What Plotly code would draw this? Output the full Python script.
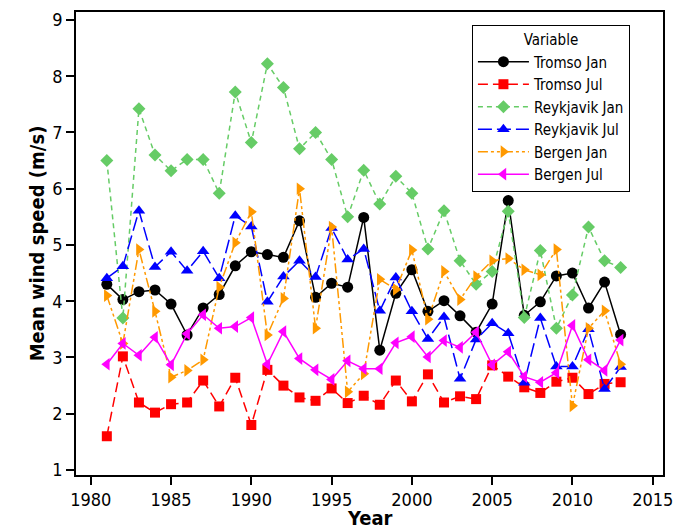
import plotly.graph_objects as go

years = list(range(1981, 2014))

tromso_jan = [4.3, 4.03, 4.17, 4.2, 3.95, 3.4, 3.88, 4.12, 4.63, 4.88,
              4.83, 4.78, 5.43, 4.07, 4.32, 4.25, 5.49, 3.13, 4.14, 4.56,
              3.82, 4.01, 3.74, 3.45, 3.95, 5.79, 3.75, 3.99, 4.45, 4.5,
              3.88, 4.34, 3.41]
tromso_jul = [1.6, 3.02, 2.2, 2.02, 2.17, 2.2, 2.59, 2.13, 2.64, 1.8,
              2.78, 2.5, 2.29, 2.23, 2.45, 2.19, 2.32, 2.16, 2.59, 2.22,
              2.7, 2.2, 2.31, 2.26, 2.86, 2.66, 2.47, 2.37, 2.57, 2.64,
              2.35, 2.53, 2.56]
reyk_jan = [6.5, 3.7, 7.42, 6.6, 6.32, 6.52, 6.52, 5.92, 7.72, 6.82,
            8.22, 7.8, 6.71, 7.0, 6.52, 5.5, 6.33, 5.73, 6.22, 5.92,
            4.93, 5.61, 4.72, 4.3, 4.53, 5.6, 3.71, 4.9, 3.52, 4.11,
            5.32, 4.72, 4.6]
reyk_jul = [4.41, 4.62, 5.61, 4.61, 4.88, 4.54, 4.89, 4.41, 5.52, 5.33,
            3.99, 4.44, 4.72, 4.43, 5.3, 4.74, 4.93, 3.83, 4.42, 3.82,
            3.33, 3.72, 2.62, 3.32, 3.61, 3.43, 2.55, 3.7, 2.84, 2.84,
            3.5, 2.44, 2.83]
bergen_jan = [4.1, 3.25, 4.92, 3.82, 2.65, 2.77, 2.96, 4.25, 5.04, 5.59,
              3.4, 4.05, 6.0, 3.52, 5.32, 2.39, 2.71, 4.39, 4.21, 4.91,
              3.68, 4.53, 4.03, 4.44, 4.72, 4.76, 4.56, 4.47, 4.92, 2.14,
              3.52, 3.83, 2.88]
bergen_jul = [2.88, 3.25, 3.04, 3.36, 2.87, 3.42, 3.76, 3.52, 3.55, 3.71,
              2.88, 3.46, 2.98, 2.78, 2.61, 2.94, 2.8, 2.8, 3.26, 3.37,
              3.01, 3.3, 3.18, 3.45, 2.87, 3.1, 2.66, 2.56, 2.73, 3.57,
              2.96, 2.77, 3.31]

series_names = ["Tromso Jan", "Tromso Jul", "Reykjavik Jan",
                "Reykjavik Jul", "Bergen Jan", "Bergen Jul"]
series_values = [tromso_jan, tromso_jul, reyk_jan, reyk_jul, bergen_jan, bergen_jul]
colors = ["#000000", "#FF0000", "#66CC66", "#0000FF", "#FF9900", "#FF00FF"]
symbols = ["circle", "square", "diamond", "triangle-up", "triangle-right", "triangle-left"]
dashes = ["solid", "10px,5px", "5px,4px", "14px,5px", "10px,3px,3px,3px,3px,3px", "solid"]
sizes = [11, 10, 10, 11, 11, 11]

x_ticks = [1980, 1985, 1990, 1995, 2000, 2005, 2010, 2015]
y_ticks = [1, 2, 3, 4, 5, 6, 7, 8, 9]

FONT = "DejaVu Sans Condensed, DejaVu Sans, sans-serif"

fig = go.Figure()
for name, vals, c, s, d, sz in zip(series_names, series_values, colors, symbols, dashes, sizes):
    fig.add_trace(go.Scatter(
        x=years, y=vals, name=name, mode="lines+markers",
        line=dict(color=c, width=1.5, dash=d),
        marker=dict(color=c, symbol=s, size=sz, line=dict(width=0)),
    ))

axis_common = dict(showline=True, linecolor="black", linewidth=1.5, mirror=True,
                   ticks="outside", ticklen=8, tickwidth=1.5, tickcolor="black",
                   showgrid=False, zeroline=False, automargin=False,
                   tickfont=dict(family=FONT, size=18, color="black"))

fig.update_layout(
    width=687, height=530,
    margin=dict(l=76, r=24, t=12, b=55),
    paper_bgcolor="white", plot_bgcolor="white",
    font=dict(family=FONT, color="black"),
    xaxis=dict(range=[1979.08, 2015.64], tickvals=x_ticks, **axis_common),
    yaxis=dict(range=[0.911, 9.142], tickvals=y_ticks,
               title=dict(text="<b>Mean wind speed (m/s)</b>", font=dict(family=FONT, size=20), standoff=2),
               **axis_common),
    legend=dict(x=0.6745, y=0.972, xanchor="left", yanchor="top",
                bgcolor="white", bordercolor="black", borderwidth=1,
                font=dict(family=FONT, size=15, color="black"),
                title=dict(text="Variable", side="top center", font=dict(family=FONT, size=15)),
                tracegroupgap=0, itemwidth=51),
    showlegend=True,
    annotations=[dict(text="<b>Year</b>", xref="paper", yref="paper",
                      x=0.5, y=-0.092, xanchor="center", yanchor="middle",
                      showarrow=False, borderpad=0,
                      font=dict(family=FONT, size=20, color="black"))],
)

fig.write_html("out.html")
